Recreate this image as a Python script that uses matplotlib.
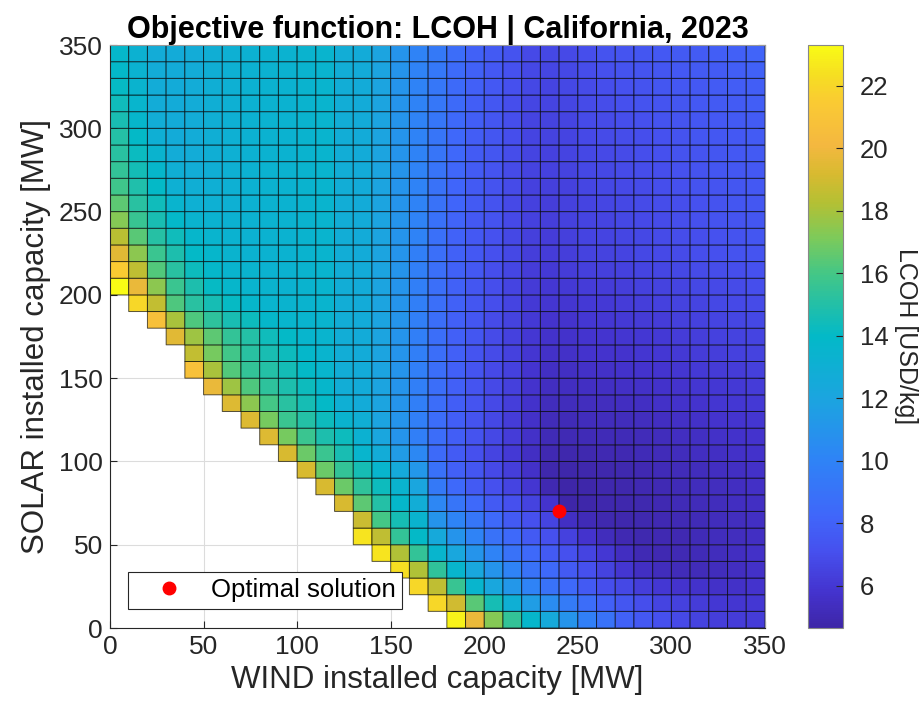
import matplotlib
matplotlib.use("Agg")
import matplotlib.pyplot as plt
import numpy as np
from matplotlib.colors import LinearSegmentedColormap

NA = np.nan

# grid of installed capacities (cell lower-left corners), MW
wind_mw = np.arange(0, 350, 10)
solar_mw = np.arange(0, 350, 10)

# LCOH [USD/kg], one list per wind capacity, solar from 0 to 340 MW
lcoh_by_wind = [
    [NA] * 20 + [23.3, 21.5, 19.5, 18.4, 17.3, 16.5, 15.8, 15.5, 15.2, 15.0, 14.7, 14.4, 14.1, 13.9, 13.8],
    [NA] * 19 + [22.0, 19.8, 18.5, 17.4, 16.4, 15.6, 15.2, 14.9, 14.5, 14.2, 14.0, 13.7, 13.6, 13.4, 13.3, 13.2],
    [NA] * 18 + [20.7, 18.6, 17.4, 16.3, 15.7, 15.1, 14.7, 14.4, 14.0, 13.7, 13.4, 13.0, 12.8, 12.7, 12.7, 12.7, 12.7],
    [NA] * 17 + [19.5, 18.0, 16.2, 15.7, 15.2, 14.8, 14.4, 13.9, 13.5, 13.1, 12.9, 12.7, 12.6, 12.6, 12.6, 12.6, 12.6, 12.6],
    [NA] * 15 + [20.8, 18.6, 17.8, 16.2, 15.2, 14.8, 14.3, 14.0, 13.7, 13.4, 13.1, 12.9, 12.8, 12.7, 12.7, 12.7, 12.7,
                 12.7, 12.7, 12.7],
    [NA] * 14 + [19.8, 18.0, 17.0, 16.5, 15.3, 14.6, 14.1, 13.8, 13.7, 13.5, 13.3, 13.1, 13.0, 12.9, 12.9, 12.9, 12.9,
                 12.9, 12.9, 12.9, 12.9],
    [NA] * 13 + [19.3, 17.8, 16.3, 15.9, 15.5, 14.7, 14.1, 13.7, 13.5, 13.4, 13.3, 13.2, 13.1, 13.1, 13.1, 13.1, 13.1,
                 13.1, 13.1, 13.1, 13.1, 13.1],
    [NA] * 12 + [19.3, 17.4, 16.2, 15.5, 15.2, 15.0, 14.3, 13.7, 13.5, 13.4, 13.3, 13.2, 13.2, 13.2, 13.2, 13.2, 13.2,
                 13.2, 13.2, 13.2, 13.2, 13.2, 13.2],
    [NA] * 11 + [19.3, 17.0, 16.0, 15.3, 15.0, 14.7, 14.4, 13.8, 13.5, 13.4, 13.3, 13.3, 13.3, 13.3, 13.3, 13.3, 13.3,
                 13.3, 13.3, 13.3, 13.3, 13.3, 13.3, 13.3],
    [NA] * 10 + [19.2, 17.0, 15.7, 15.2, 14.8, 14.5, 14.3, 14.0, 13.6, 13.4, 13.3, 13.3, 13.3, 13.3, 13.3, 13.3, 13.3,
                 13.3, 13.3, 13.3, 13.3, 13.3, 13.3, 13.3, 13.3],
    [NA] * 9 + [19.2, 16.8, 15.7, 15.0, 14.6, 14.3, 14.0, 13.8, 13.6, 13.5, 13.4, 13.4, 13.4, 13.4, 13.4, 13.4, 13.4,
                13.4, 13.4, 13.4, 13.4, 13.4, 13.4, 13.4, 13.4, 13.4],
    [NA] * 8 + [19.2, 16.8, 15.7, 14.8, 14.3, 14.0, 13.7, 13.6, 13.5, 13.5, 13.5, 13.5, 13.5, 13.5, 13.5, 13.5, 13.5,
                13.5, 13.5, 13.5, 13.5, 13.5, 13.5, 13.5, 13.5, 13.5, 13.5],
    [NA] * 7 + [19.2, 16.8, 15.5, 14.7, 14.3, 13.4, 13.0, 12.8, 12.8, 12.8, 12.8, 12.8, 12.8, 12.8, 12.8, 12.8, 12.8,
                12.8, 12.8, 12.8, 12.8, 12.8, 12.8, 12.8, 12.8, 12.8, 12.8, 12.8],
    [NA] * 5 + [22.5, 18.8, 16.5, 15.4, 14.6, 13.6, 13.2, 12.9, 12.6, 12.6, 12.6, 12.6, 12.6, 12.6, 12.6, 12.6, 12.6,
                12.6, 12.6, 12.6, 12.6, 12.6, 12.6, 12.6, 12.6, 12.6, 12.6, 12.6, 12.6, 12.6],
    [NA] * 4 + [22.5, 18.5, 16.0, 15.0, 14.3, 13.6, 12.7, 12.1, 12.0, 12.0, 12.0, 12.0, 12.0, 12.0, 12.0, 12.0, 12.0,
                12.0, 12.0, 12.0, 12.0, 12.0, 12.0, 12.0, 12.0, 12.0, 12.0, 12.0, 12.0, 12.0, 12.0],
    [NA] * 3 + [22.3, 18.2, 15.5, 14.6, 13.8, 13.4, 12.5, 11.4, 11.0, 11.0, 11.0, 11.0, 11.0, 11.0, 11.0, 11.0, 11.0,
                11.0, 11.0, 11.0, 11.0, 11.0, 11.0, 11.0, 11.0, 11.0, 11.0, 11.0, 11.0, 11.0, 11.0, 11.0],
    [NA] * 2 + [22.0, 18.2, 15.5, 14.0, 13.4, 12.8, 12.1, 11.2, 10.3, 9.8, 9.8, 9.8, 9.8, 9.8, 9.8, 9.8, 9.8,
                9.8, 9.8, 9.8, 9.8, 10.0, 10.0, 10.0, 10.0, 10.0, 10.0, 10.0, 10.0, 10.0, 10.0, 10.0, 10.0],
    [NA] + [22.0, 18.5, 15.4, 13.6, 12.4, 11.0, 10.2, 9.4, 8.9, 8.5, 8.6, 8.6, 8.6, 8.7, 8.7, 8.7, 8.7,
            8.7, 8.8, 8.8, 8.8, 8.8, 8.85, 8.9, 8.95, 9.0, 9.05, 9.1, 9.15, 9.2, 9.25, 9.3, 9.35, 9.4],
    [23.0, 19.0, 15.6, 13.6, 12.2, 11.0, 10.1, 9.1, 8.4, 7.9, 7.7, 7.8, 7.8, 7.8, 7.9, 7.9, 7.9, 7.9,
     7.9, 8.0, 8.0, 8.0, 8.0, 8.05, 8.1, 8.15, 8.2, 8.25, 8.3, 8.35, 8.4, 8.45, 8.5, 8.55, 8.6],
    [19.8, 16.4, 13.6, 12.2, 11.0, 10.0, 9.2, 8.4, 7.6, 7.4, 7.1, 7.2, 7.2, 7.3, 7.3, 7.3, 7.3, 7.4,
     7.4, 7.4, 7.4, 7.5, 7.5, 7.5, 7.55, 7.6, 7.6, 7.65, 7.7, 7.75, 7.8, 7.85, 7.9, 7.95, 8.0],
    [17.3, 14.6, 12.2, 11.0, 10.0, 9.0, 8.4, 7.6, 7.1, 6.8, 6.6, 6.7, 6.7, 6.8, 6.8, 6.8, 6.9, 6.9,
     6.9, 7.0, 7.0, 7.0, 7.1, 7.15, 7.2, 7.2, 7.25, 7.3, 7.35, 7.4, 7.4, 7.45, 7.5, 7.55, 7.6],
    [15.5, 13.0, 11.2, 10.0, 9.0, 8.4, 7.6, 7.1, 6.6, 6.3, 6.1, 6.2, 6.25, 6.3, 6.35, 6.4, 6.4, 6.45,
     6.5, 6.55, 6.6, 6.65, 6.7, 6.75, 6.8, 6.8, 6.85, 6.9, 6.95, 7.0, 7.0, 7.05, 7.1, 7.15, 7.2],
    [13.7, 11.5, 10.0, 9.0, 8.4, 7.6, 7.1, 6.5, 5.9, 5.6, 5.5, 5.6, 5.65, 5.7, 5.8, 5.85, 5.9, 6.0,
     6.05, 6.1, 6.15, 6.2, 6.3, 6.35, 6.4, 6.4, 6.45, 6.5, 6.55, 6.6, 6.6, 6.65, 6.7, 6.75, 6.8],
    [12.4, 10.5, 9.0, 8.4, 7.6, 7.1, 6.6, 5.8, 4.95, 4.85, 4.95, 5.1, 5.2, 5.3, 5.4, 5.5, 5.6, 5.7,
     5.8, 5.9, 6.0, 6.1, 6.2, 6.25, 6.3, 6.3, 6.35, 6.4, 6.45, 6.5, 6.5, 6.55, 6.6, 6.65, 6.7],
    [11.0, 9.5, 8.4, 7.6, 7.1, 6.4, 5.5, 4.65, 4.7, 4.75, 4.85, 5.05, 5.15, 5.3, 5.4, 5.5, 5.6, 5.7,
     5.8, 5.95, 6.05, 6.2, 6.3, 6.35, 6.4, 6.4, 6.45, 6.5, 6.55, 6.6, 6.6, 6.65, 6.7, 6.75, 6.8],
    [9.8, 8.6, 7.6, 7.1, 6.6, 5.8, 5.1, 4.75, 4.75, 4.8, 4.9, 5.1, 5.25, 5.35, 5.5, 5.6, 5.75, 5.85,
     6.0, 6.1, 6.25, 6.35, 6.5, 6.55, 6.6, 6.6, 6.65, 6.7, 6.75, 6.8, 6.85, 6.9, 6.9, 6.95, 7.0],
    [9.0, 7.9, 7.0, 6.5, 6.0, 5.3, 4.9, 4.8, 4.8, 4.85, 4.95, 5.1, 5.25, 5.35, 5.5, 5.6, 5.75, 5.85,
     6.0, 6.1, 6.25, 6.35, 6.5, 6.55, 6.6, 6.65, 6.7, 6.75, 6.8, 6.85, 6.9, 6.95, 7.0, 7.1, 7.2],
    [8.0, 7.4, 6.7, 5.9, 5.4, 4.95, 4.85, 4.85, 4.85, 4.9, 5.0, 5.15, 5.3, 5.4, 5.55, 5.7, 5.8, 5.95,
     6.05, 6.2, 6.3, 6.45, 6.6, 6.65, 6.7, 6.75, 6.8, 6.85, 6.9, 6.95, 7.0, 7.1, 7.15, 7.2, 7.3],
    [7.5, 7.0, 6.3, 5.5, 5.05, 4.9, 4.9, 4.9, 4.95, 5.0, 5.1, 5.2, 5.35, 5.5, 5.6, 5.75, 5.9, 6.0,
     6.15, 6.3, 6.4, 6.55, 6.7, 6.75, 6.8, 6.85, 6.9, 6.95, 7.0, 7.05, 7.1, 7.2, 7.25, 7.3, 7.4],
    [7.1, 6.6, 6.0, 5.3, 5.0, 4.95, 4.95, 5.0, 5.05, 5.1, 5.2, 5.3, 5.45, 5.6, 5.7, 5.85, 6.0, 6.1,
     6.25, 6.4, 6.5, 6.65, 6.8, 6.85, 6.9, 6.95, 7.0, 7.05, 7.1, 7.15, 7.2, 7.3, 7.35, 7.4, 7.5],
    [6.8, 6.4, 5.8, 5.2, 5.05, 5.0, 5.05, 5.1, 5.15, 5.2, 5.3, 5.4, 5.55, 5.7, 5.8, 5.95, 6.1, 6.2,
     6.35, 6.5, 6.6, 6.75, 6.9, 6.95, 7.0, 7.05, 7.1, 7.15, 7.2, 7.25, 7.3, 7.4, 7.45, 7.5, 7.6],
    [6.5, 6.2, 5.7, 5.2, 5.15, 5.1, 5.15, 5.2, 5.25, 5.3, 5.4, 5.5, 5.65, 5.8, 5.9, 6.05, 6.2, 6.3,
     6.45, 6.6, 6.7, 6.85, 7.0, 7.05, 7.1, 7.15, 7.2, 7.25, 7.3, 7.35, 7.4, 7.5, 7.55, 7.6, 7.7],
    [6.3, 6.0, 5.6, 5.3, 5.3, 5.25, 5.25, 5.3, 5.35, 5.4, 5.5, 5.6, 5.75, 5.9, 6.0, 6.15, 6.3, 6.4,
     6.55, 6.7, 6.8, 6.95, 7.1, 7.15, 7.2, 7.25, 7.3, 7.35, 7.4, 7.45, 7.5, 7.6, 7.65, 7.7, 7.8],
    [6.2, 5.9, 5.65, 5.45, 5.4, 5.35, 5.35, 5.4, 5.45, 5.5, 5.6, 5.7, 5.85, 6.0, 6.1, 6.25, 6.4, 6.5,
     6.65, 6.8, 6.9, 7.05, 7.2, 7.25, 7.3, 7.35, 7.4, 7.45, 7.5, 7.55, 7.6, 7.7, 7.75, 7.8, 7.9],
    [6.2, 6.0, 5.8, 5.65, 5.6, 5.5, 5.5, 5.5, 5.55, 5.6, 5.7, 5.8, 5.95, 6.1, 6.2, 6.35, 6.5, 6.6,
     6.75, 6.9, 7.0, 7.15, 7.3, 7.35, 7.4, 7.45, 7.5, 7.55, 7.6, 7.65, 7.7, 7.8, 7.85, 7.95, 8.1],
]

# optimum found by the optimiser
opt_wind = 240
opt_solar = 70

# parula-like colormap (MATLAB default)
parula_pts = [
    (0.00, '#3E26A8'), (0.06, '#4433CE'), (0.13, '#4650EE'), (0.19, '#4066FA'),
    (0.29, '#2E84F6'), (0.39, '#1CA4E0'), (0.50, '#03B9C8'), (0.56, '#26C0A4'),
    (0.61, '#45C785'), (0.67, '#7DCA5A'), (0.73, '#B4C034'), (0.78, '#D8BA30'),
    (0.83, '#F4B840'), (0.90, '#FAC934'), (0.95, '#F6DE22'), (1.00, '#F9FB15'),
]
parula = LinearSegmentedColormap.from_list('parula', parula_pts)

plt.rcParams['font.family'] = ['Liberation Sans', 'DejaVu Sans']
txt = '#262626'

Z = np.ma.masked_invalid(np.array(lcoh_by_wind).T)
x_edges = np.append(wind_mw, wind_mw[-1] + 10)
y_edges = np.append(solar_mw, solar_mw[-1] + 10)

fig = plt.figure(figsize=(9.19, 7.17), dpi=100)
ax = fig.add_axes([0.1197, 0.1241, 0.7127, 0.8131])
cax = fig.add_axes([0.8792, 0.1241, 0.0381, 0.8131])

ax.grid(True, color='#dcdcdc', linewidth=0.8)
ax.set_axisbelow(True)
mesh = ax.pcolor(x_edges, y_edges, Z, cmap=parula, edgecolors=(0, 0, 0, 0.65),
                 linewidth=0.7, zorder=2)
ax.plot(opt_wind, opt_solar, 'o', color='red', markersize=9, zorder=3,
        label='Optimal solution')

ax.set_xlim(0, 350)
ax.set_ylim(0, 350)
ticks = np.arange(0, 351, 50)
ax.set_xticks(ticks)
ax.set_yticks(ticks)
ax.tick_params(direction='in', length=5, labelsize=19, colors=txt, top=True, right=True,
               labeltop=False, labelright=False, pad=5)
for side in ['left', 'bottom']:
    ax.spines[side].set_color(txt)
for side in ['top', 'right']:
    ax.spines[side].set_color('#999999')

ax.set_xlabel('WIND installed capacity [MW]', fontsize=22.5, color=txt, labelpad=4)
ax.set_ylabel('SOLAR installed capacity [MW]', fontsize=22.5, color=txt, labelpad=6)
ax.set_title('Objective function: LCOH | California, 2023', fontsize=22,
             fontweight='bold', pad=5)

leg = ax.legend(loc='lower left', bbox_to_anchor=(0.027, 0.033), borderaxespad=0,
                fontsize=18.5, frameon=True, fancybox=False, framealpha=1,
                edgecolor='#262626', handletextpad=0.25, borderpad=0.25,
                handlelength=2.75)
leg.get_frame().set_linewidth(0.8)
leg.set_zorder(5)

cb = fig.colorbar(mesh, cax=cax)
cb.set_ticks(np.arange(6, 23, 2))
cb.ax.tick_params(direction='in', length=5, labelsize=18.5, colors=txt, pad=12)
cb.outline.set_edgecolor('#888888')
cb.set_label('LCOH [USD/kg]', fontsize=18, color=txt, rotation=270, va='bottom',
             labelpad=4)

fig.savefig('out.png', dpi=100)
